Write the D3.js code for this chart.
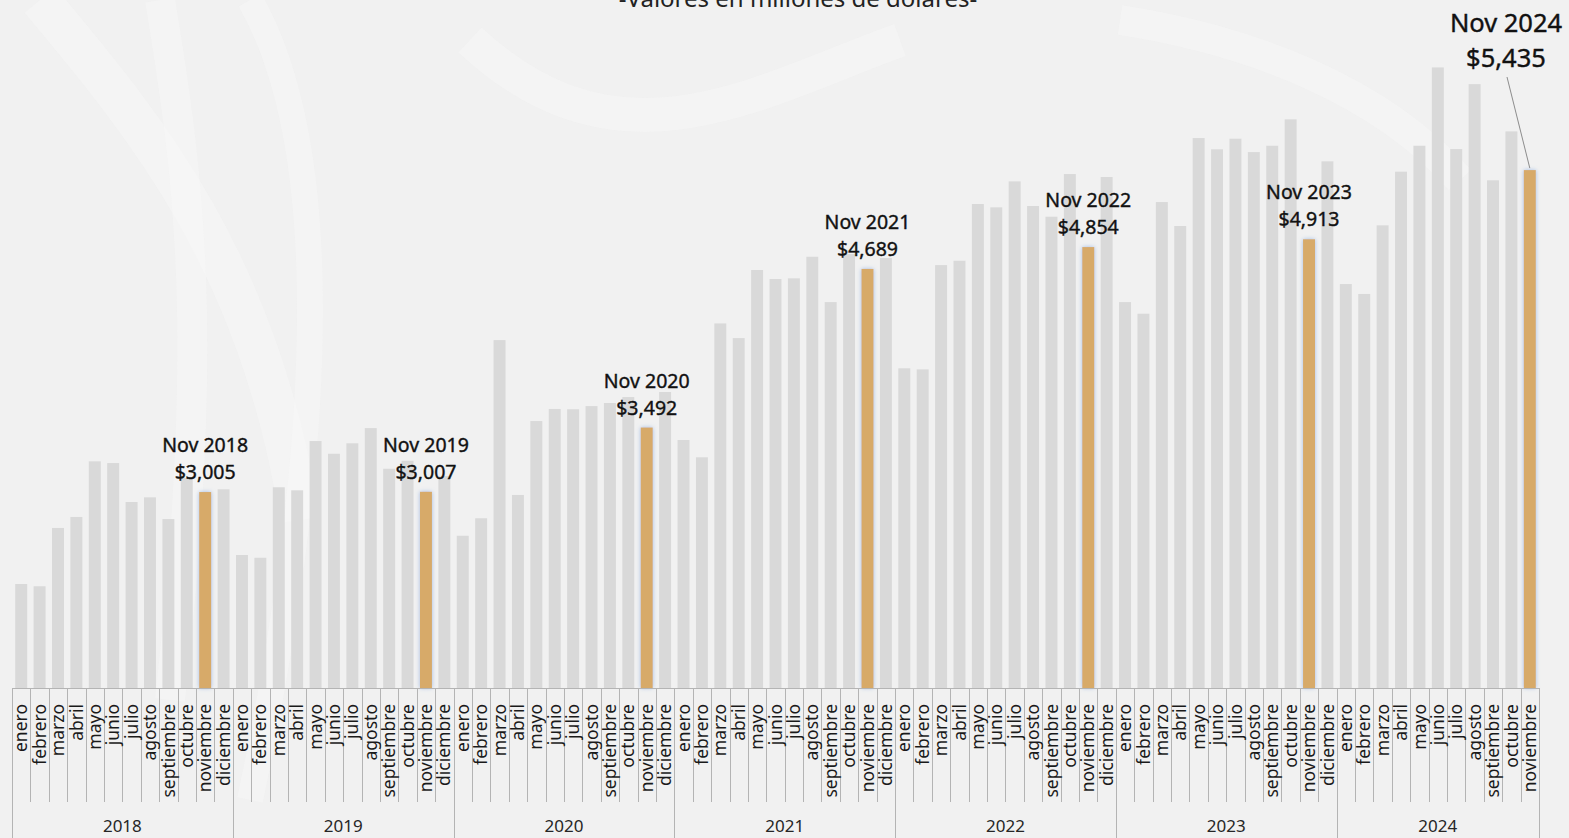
<!DOCTYPE html>
<meta charset="utf-8">
<style>
 body { margin: 0; background: #f1f1f1; }
 svg { font-family: "Noto Sans", sans-serif; background: #f1f1f1; }
 .axis path, .axis line { display: none; }
 .sep { stroke: #b4b4b4; stroke-width: 1; shape-rendering: crispEdges; }
</style>
<body>
<svg width="1569" height="838"></svg>
</body>
<script src="https://cdn.jsdelivr.net/npm/d3@7"></script>
<script>

 // categories
 var months = ["enero", "febrero", "marzo", "abril", "mayo", "junio", "julio",
               "agosto", "septiembre", "octubre", "noviembre", "diciembre"];
 var years = ["2018", "2019", "2020", "2021", "2022", "2023", "2024"];

 // millones de dolares
 var v2018 = [2311, 2294, 2734, 2817, 3237, 3224, 2930, 2965, 2801, 3111, 3005, 3026];
 var v2019 = [2530, 2509, 3041, 3018, 3390, 3294, 3373, 3488, 3181, 3241, 3007, 3125];
 var v2020 = [2675, 2807, 4152, 2983, 3541, 3632, 3630, 3654, 3677, 3722, 3492, 3760];
 var v2021 = [3398, 3267, 4278, 4167, 4681, 4613, 4618, 4781, 4439, 4801, 4689, 4771];
 var v2022 = [3939, 3931, 4718, 4751, 5179, 5154, 5350, 5164, 5083, 5405, 4854, 5383];
 var v2023 = [4439, 4351, 5194, 5013, 5677, 5592, 5672, 5571, 5619, 5818, 4913, 5501];
 var v2024 = [4575, 4500, 5018, 5423, 5619, 6210, 5594, 6084, 5358, 5727, 5435];

 var highlightMonth = "noviembre";
 var shortName = "Nov";

 var series = [v2018, v2019, v2020, v2021, v2022, v2023, v2024];

 // flat table built from the arrays above
 var data = [];
 years.forEach(function(yr, i) {
     series[i].forEach(function(v, m) {
         data.push({key: yr + "-" + m, year: yr, month: months[m], value: v});
     });
 });

 var svg = d3.select("svg"),
     left = 12, right = 1539, base = 688;

 // faint background swirls
 var bg = svg.append("g").attr("fill", "none").attr("stroke", "#f7f7f7").attr("stroke-opacity", 0.5);
 bg.append("path").attr("d", "M40,0 C140,120 260,260 300,520").attr("stroke-width", 40);
 bg.append("path").attr("d", "M160,0 C190,180 210,340 170,700").attr("stroke-width", 30);
 bg.append("path").attr("d", "M250,0 C330,140 330,420 250,800").attr("stroke-width", 26);
 bg.append("path").attr("d", "M470,40 C620,180 760,90 900,40").attr("stroke-width", 34);
 bg.append("path").attr("d", "M1120,20 C1250,40 1380,90 1460,180").attr("stroke-width", 30);

 var defs = svg.append("defs");
 var glow = defs.append("filter").attr("id", "glow")
     .attr("x", "-50%").attr("y", "-5%").attr("width", "200%").attr("height", "110%");
 glow.append("feDropShadow").attr("dx", 0).attr("dy", 0).attr("stdDeviation", 2)
     .attr("flood-color", "#7fa6e0").attr("flood-opacity", 0.7);

 var x = d3.scaleBand()
     .domain(data.map(function(d) { return d.key; }))
     .range([left, right])
     .paddingInner(0.35)
     .paddingOuter(0.175);
 var slot = d3.scaleBand()
     .domain(data.map(function(d) { return d.key; }))
     .range([left, right]);
 var y = d3.scaleLinear()
     .domain([1526, 6500])
     .range([base, 29]);

 // bars
 svg.append("g").selectAll("rect")
     .data(data)
     .enter().append("rect")
     .attr("x", function(d) { return x(d.key); })
     .attr("width", x.bandwidth())
     .attr("y", function(d) { return y(d.value); })
     .attr("height", function(d) { return base - y(d.value); })
     .attr("fill", function(d) { return d.month == highlightMonth ? "#d7aa69" : "#d9d9d9"; })
     .attr("filter", function(d) { return d.month == highlightMonth ? "url(#glow)" : null; });

 // base line and separators
 svg.append("line").attr("class", "sep")
     .attr("x1", left).attr("x2", right).attr("y1", base + 0.5).attr("y2", base + 0.5)
     .attr("stroke", "#a8a8a8");
 svg.append("g").selectAll("line")
     .data(data)
     .enter().append("line")
     .attr("class", "sep")
     .attr("x1", function(d) { return Math.round(slot(d.key)) + 0.5; })
     .attr("x2", function(d) { return Math.round(slot(d.key)) + 0.5; })
     .attr("y1", base)
     .attr("y2", function(d) { return d.month == "enero" ? 838 : 802; });
 svg.append("line").attr("class", "sep")
     .attr("x1", right + 0.5).attr("x2", right + 0.5).attr("y1", base).attr("y2", 838);

 // month labels via axis
 var xAxis = d3.axisBottom(x)
     .tickSize(0)
     .tickFormat(function(k) { return months[+k.split("-")[1]]; });
 var xAxisG = svg.append("g")
     .attr("class", "axis")
     .attr("transform", "translate(0," + base + ")")
     .call(xAxis);
 xAxisG.selectAll("text")
     .attr("transform", "rotate(-90)")
     .attr("x", -16)
     .attr("y", 0)
     .attr("dy", "0.35em")
     .style("text-anchor", "end")
     .style("font-size", "17.5px")
     .style("font-family", "Noto Sans")
     .attr("fill", "#1a1a1a");

 // year labels
 svg.append("g").selectAll("text")
     .data(years)
     .enter().append("text")
     .attr("x", function(yr, i) {
         var keys = series[i].map(function(v, m) { return yr + "-" + m; });
         var a = slot(keys[0]), b = slot(keys[keys.length - 1]) + slot.bandwidth();
         if (i < years.length - 1) b = slot(keys[0]) + slot.bandwidth() * 12;
         return (a + b) / 2;
     })
     .attr("y", 832)
     .attr("text-anchor", "middle")
     .style("font-size", "17px")
     .attr("fill", "#262626")
     .text(function(d) { return d; });

 // highlighted labels
 var hi = data.filter(function(d) { return d.month == highlightMonth; });
 var last = hi[hi.length - 1];
 var fmt = d3.format(",");
 var lab = svg.append("g").selectAll("g")
     .data(hi)
     .enter().append("g")
     .attr("text-anchor", "middle")
     .attr("fill", "#111")
     .attr("stroke", "#111")
     .attr("stroke-width", 0.4);
 lab.append("text")
     .attr("x", function(d) { return d === last ? 1506 : x(d.key) + x.bandwidth() / 2; })
     .attr("y", function(d) { return d === last ? 32 : y(d.value) - 40; })
     .style("font-size", function(d) { return d === last ? "25.5px" : "19.5px"; })
     .text(function(d) { return shortName + " " + d.year; });
 lab.append("text")
     .attr("x", function(d) { return d === last ? 1506 : x(d.key) + x.bandwidth() / 2; })
     .attr("y", function(d) { return d === last ? 67 : y(d.value) - 13; })
     .style("font-size", function(d) { return d === last ? "25.5px" : "19.5px"; })
     .text(function(d) { return "$" + fmt(d.value); });

 // leader line for the last label
 svg.append("line")
     .attr("x1", 1507).attr("y1", 77)
     .attr("x2", x(last.key) + x.bandwidth() / 2).attr("y2", y(last.value) - 2)
     .attr("stroke", "#8c8c8c").attr("stroke-width", 1);

 // title (cut off at the top edge, as in the original)
 svg.append("text")
     .attr("x", 798).attr("y", 7)
     .attr("text-anchor", "middle")
     .style("font-size", "24px")
     .attr("fill", "#222")
     .text("-Valores en millones de dólares-");

</script>
</html>
